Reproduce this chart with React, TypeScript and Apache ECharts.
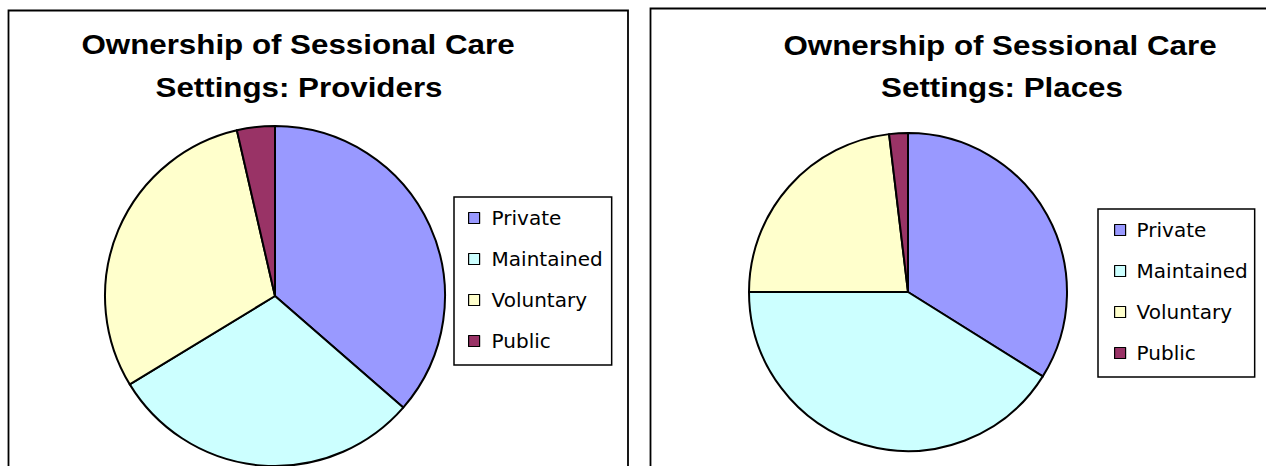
import React, { useEffect, useRef } from "react";
import * as echarts from "echarts";

const categories = ["Private", "Maintained", "Voluntary", "Public"];
const colors = ["#9999FF", "#CCFFFF", "#FFFFCC", "#993366"];
const providersValues = [36.4, 29.9, 30.1, 3.6];
const placesValues = [33.9, 41.1, 23.1, 1.9];
const titleLine1 = "Ownership of Sessional Care";
const providersLine2 = "Settings: Providers";
const placesLine2 = "Settings: Places";

function makeData(values: number[]) {
  return categories.map((name, i) => ({
    name,
    value: values[i],
    itemStyle: { color: colors[i] },
  }));
}

function titleText(text: string, x: number, y: number) {
  return {
    type: "text",
    x,
    y,
    scaleX: 1.16,
    silent: true,
    style: {
      text,
      fontFamily: "Liberation Sans, Arial, sans-serif",
      fontSize: 27,
      fontWeight: "bold",
      fill: "#000",
      textAlign: "center",
      textVerticalAlign: "middle",
      verticalAlign: "middle",
    },
  };
}

function legendOf(left: number, top: number, padL: number, textPad: number, padR: number) {
  return {
    orient: "vertical",
    left,
    top,
    padding: [11, padR, 14, padL],
    itemWidth: 11,
    itemHeight: 11,
    itemGap: 21,
    icon: "rect",
    selectedMode: false,
    backgroundColor: "#fff",
    borderColor: "#000",
    borderWidth: 1.5,
    itemStyle: { borderColor: "#000", borderWidth: 1.2 },
    textStyle: {
      fontFamily: "DejaVu Sans, sans-serif",
      fontSize: 20,
      lineHeight: 20,
      color: "#000",
      padding: [0, 0, 0, textPad],
    },
    data: categories,
  };
}

export default function App() {
  const ref = useRef<HTMLDivElement>(null);
  useEffect(() => {
    if (!ref.current) return;
    const chart = echarts.init(ref.current, null, { renderer: "svg" });
    const pieBase = {
      type: "pie",
      startAngle: 90,
      clockwise: true,
      label: { show: false },
      labelLine: { show: false },
      emphasis: { disabled: true },
      itemStyle: { borderColor: "#000", borderWidth: 2 },
    };
    chart.setOption({
      animation: false,
      backgroundColor: "#fff",
      legend: [legendOf(454, 197, 14, 7, 9), legendOf(1098, 209, 16, 6, 7)],
      graphic: [
        {
          type: "rect",
          z: -10,
          silent: true,
          shape: { x: 8.5, y: 10.5, width: 619.5, height: 520 },
          style: { fill: "none", stroke: "#000", lineWidth: 1.8 },
        },
        {
          type: "rect",
          z: -10,
          silent: true,
          shape: { x: 650.5, y: 8.5, width: 700, height: 520 },
          style: { fill: "none", stroke: "#000", lineWidth: 1.8 },
        },
        titleText(titleLine1, 298, 45),
        titleText(providersLine2, 299, 88),
        titleText(titleLine1, 1000, 46),
        titleText(placesLine2, 1002, 88),
      ],
      series: [
        {
          ...pieBase,
          name: "Providers",
          center: [275, 296],
          radius: 170,
          data: makeData(providersValues),
        },
        {
          ...pieBase,
          name: "Places",
          center: [908, 292],
          radius: 159,
          data: makeData(placesValues),
        },
      ],
    });
    return () => chart.dispose();
  }, []);
  return (
    <div
      ref={ref}
      style={{ position: "absolute", left: 0, top: 0, width: 1266, height: 466 }}
    />
  );
}
